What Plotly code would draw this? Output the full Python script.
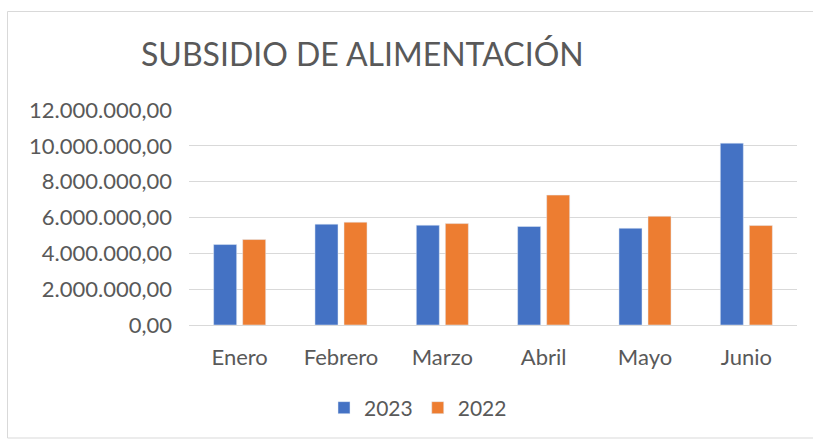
import plotly.graph_objects as go

months = ["Enero", "Febrero", "Marzo", "Abril", "Mayo", "Junio"]
v2023 = [4490000, 5630000, 5570000, 5500000, 5400000, 10150000]
v2022 = [4770000, 5740000, 5660000, 7250000, 6070000, 5550000]

TXT = "#595959"
FONT = "Lato"

fig = go.Figure()
fig.add_trace(go.Bar(name="2023", x=months, y=v2023, marker_color="#4472C4"))
fig.add_trace(go.Bar(name="2022", x=months, y=v2022, marker_color="#ED7D31"))

L, R, T, B = 189, 16, 110, 115
W = 813 - L - R
H = 440 - T - B

def px(x):
    return (x - L) / W

def py(y):
    return (440 - B - y) / H

fig.update_layout(
    width=813, height=440,
    margin=dict(l=L, r=R, t=T, b=B),
    paper_bgcolor="white", plot_bgcolor="white",
    separators=",.",
    barmode="group", bargap=0.427, bargroupgap=0.207,
    font=dict(family=FONT, color=TXT, size=22),
    title=dict(text="SUBSIDIO DE ALIMENTACIÓN", x=141 / 813, xanchor="left",
               xref="container", y=1 - 55 / 440, yanchor="middle",
               font=dict(size=32, color=TXT, family=FONT)),
    showlegend=True,
    legend=dict(orientation="h", x=px(418), xanchor="center", y=py(408),
                yanchor="middle", font=dict(size=21, color=TXT),
                itemwidth=30, traceorder="normal"),
    shapes=[dict(type="rect", xref="paper", yref="paper",
                 x0=px(7.5), x1=px(820), y0=py(438), y1=py(11.5),
                 line=dict(color="#D9D9D9", width=1), layer="below")],
)
fig.update_yaxes(range=[0, 12000000], dtick=2000000, tickformat=",.2f",
                 showgrid=True, gridcolor="#D9D9D9", gridwidth=1.3,
                 zeroline=False, showline=False, ticks="",
                 ticklabelstandoff=16, tickfont=dict(size=22, color=TXT))
fig.update_xaxes(showline=True, linecolor="#D9D9D9", linewidth=1.3,
                 ticks="", ticklabelstandoff=12, tickfont=dict(size=22, color=TXT))

fig.write_html("out.html", config={"displayModeBar": False},
               post_script="document.body.style.margin='0px';")
